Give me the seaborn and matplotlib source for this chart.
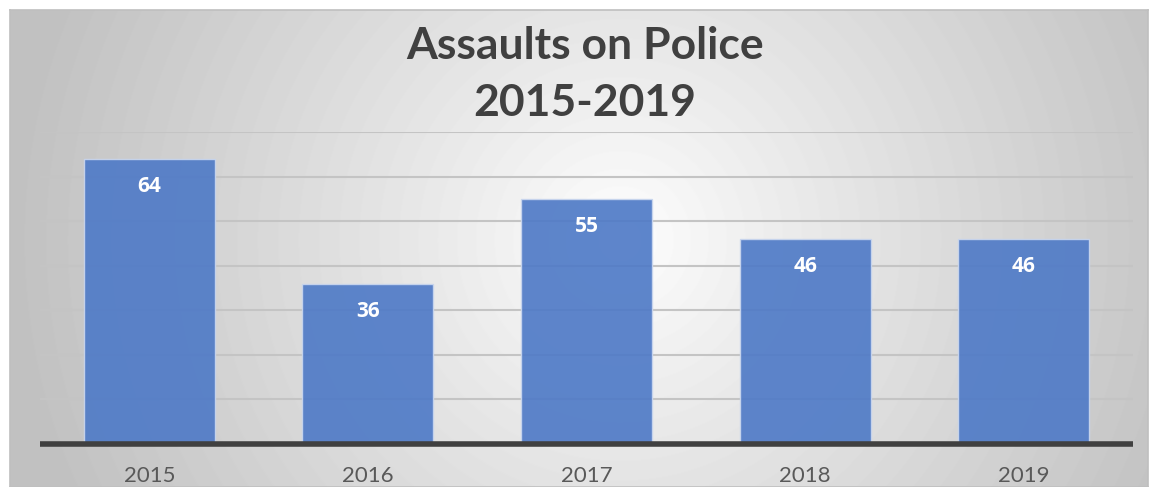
import numpy as np
import pandas as pd
import matplotlib
matplotlib.use("Agg")
import matplotlib.pyplot as plt
import seaborn as sns

years = ["2015", "2016", "2017", "2018", "2019"]
assaults = [64, 36, 55, 46, 46]
title_lines = ["Assaults on Police", "2015-2019"]

sns.set_style("white")
plt.rcParams['font.family'] = ['Lato', 'DejaVu Sans']

W, H = 1151, 487
fig = plt.figure(figsize=(W / 100, H / 100), dpi=100)

# radial grey gradient panel behind the chart
bg = fig.add_axes([10 / W, 0, 1138 / W, 477 / H])
xx, yy = np.meshgrid(np.arange(10, 1148), np.arange(10, 487))
d = np.sqrt((xx - 620) ** 2 + (yy - 240) ** 2) / 600
shade = 1 - 0.24 * np.clip(d, 0, 1) ** 0.9
bg.imshow(shade, cmap="gray", vmin=0, vmax=1, aspect="auto",
          extent=[0, 1, 0, 1], origin="upper")
bg.set_xticks([])
bg.set_yticks([])
for s in bg.spines.values():
    s.set_color("#bfbfbf")
    s.set_linewidth(1.2)

# main plotting area
ax = fig.add_axes([40 / W, (H - 444) / H, 1093 / W, 312 / H])
ax.set_facecolor("none")
df = pd.DataFrame({"year": years, "count": assaults})
sns.barplot(data=df, x="year", y="count", color="#507bc7", alpha=0.92,
            saturation=1, width=0.6, edgecolor="#c9d6ee", linewidth=1,
            ax=ax, zorder=2)
ax.set_ylim(0, 70)
ax.set_yticks(range(10, 71, 10))
ax.yaxis.grid(True, color="#c4c4c4", linewidth=1.5, zorder=1)
ax.set_axisbelow(True)
ax.axhline(0, color="#404040", linewidth=4, zorder=3, solid_capstyle="butt",
           clip_on=False)
ax.set_yticklabels([])
ax.set_xlabel("")
ax.set_ylabel("")
ax.tick_params(axis="both", length=0)
ax.tick_params(axis="x", labelsize=16, labelcolor="#595959", pad=16)
for s in ax.spines.values():
    s.set_visible(False)

for i, v in enumerate(assaults):
    ax.text(i, v - 6.2, str(v), ha="center", va="center", color="white",
            fontsize=15, fontweight="bold", family=["Open Sans", "DejaVu Sans"],
            zorder=4)

fig.text(585 / W, 1 - 46 / H, title_lines[0], ha="center", va="center",
         fontsize=32, fontweight="bold", color="#404040")
fig.text(585 / W, 1 - 103 / H, title_lines[1], ha="center", va="center",
         fontsize=32, fontweight="bold", color="#404040")

fig.savefig("out.png", dpi=100)
